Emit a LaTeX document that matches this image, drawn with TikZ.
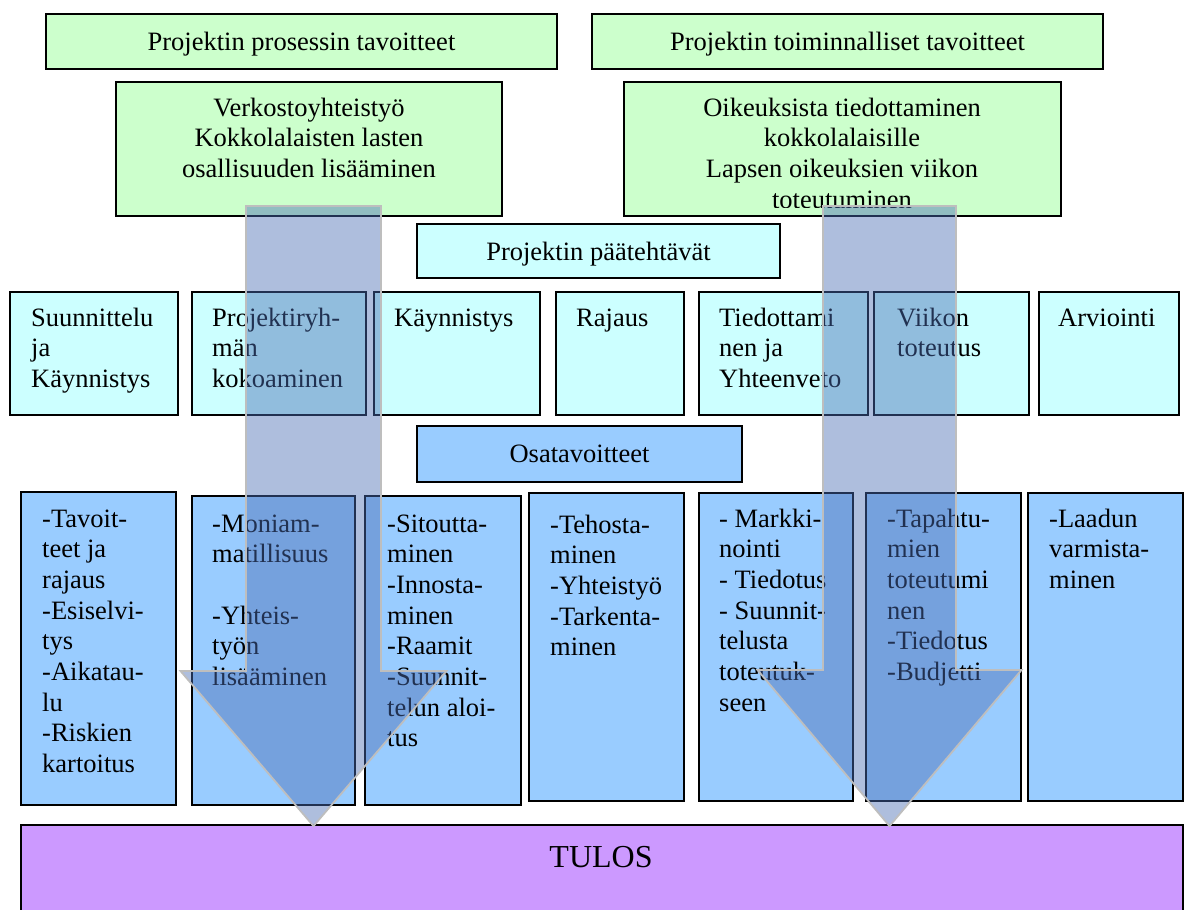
\documentclass[tikz,border=0pt]{standalone}
\usepackage{fontspec}
\setmainfont{Liberation Serif}
\definecolor{gr}{RGB}{204,255,204}
\definecolor{cy}{RGB}{204,255,255}
\definecolor{bl}{RGB}{153,204,255}
\definecolor{pu}{RGB}{204,153,255}
\definecolor{arrfill}{RGB}{75,110,180}
\definecolor{arredge}{RGB}{190,190,190}
% box: name, x1, y1, x2, y2, style
\newcommand\mybox[6]{\node[boxstyle,#6,minimum width={#4-#2},minimum height={#5-#3}] (#1) at ({(#2+#4)/2},{(#3+#5)/2}) {};}
% left aligned text: name, x, baseline, lines
\newcommand\ltxt[4]{\node[anchor=base west,inner sep=0pt] (#1) at (#2,#3) {\begin{tabular}[t]{@{}l@{}}#4\end{tabular}};}
% centered text: name, x, baseline, lines
\newcommand\ctxt[4]{\node[anchor=base,inner sep=0pt] (#1) at (#2,#3) {\begin{tabular}[t]{@{}c@{}}#4\end{tabular}};}
\tikzset{
  boxstyle/.style={draw=black,line width=1.8pt,inner sep=0pt,outer sep=0pt,rectangle},
  bigarrow/.style={draw=arredge,line width=1.8pt,fill=arrfill,fill opacity=0.45,line join=miter},
}
\begin{document}
\begin{tikzpicture}[x=1pt,y=-1pt,font=\fontsize{26.5}{30.7}\selectfont]
\useasboundingbox (0,0) rectangle (1187,910);
% top goals
\mybox{pgoal}{46}{14}{557}{69}{fill=gr}
\mybox{fgoal}{592}{14}{1103}{69}{fill=gr}
\ctxt{pgoalt}{301.5}{50}{Projektin prosessin tavoitteet}
\ctxt{fgoalt}{847.5}{50}{Projektin toiminnalliset tavoitteet}
\mybox{pgoal2}{116}{82}{502}{216}{fill=gr}
\mybox{fgoal2}{624}{82}{1061}{216}{fill=gr}
\ctxt{pgoal2t}{309}{116}{Verkostoyhteistyö\\Kokkolalaisten lasten\\osallisuuden lisääminen}
\begin{scope}
\clip (624,82) rectangle (1061,207);
\ctxt{fgoal2t}{842}{116}{Oikeuksista tiedottaminen\\kokkolalaisille\\Lapsen oikeuksien viikon\\toteutuminen}
\end{scope}
% main tasks
\mybox{tasks}{417}{224}{780}{278}{fill=cy}
\ctxt{taskst}{598.5}{260}{Projektin päätehtävät}
\mybox{t1}{10}{292}{178}{415}{fill=cy}
\mybox{t2}{192}{292}{366}{415}{fill=cy}
\mybox{t3}{374}{292}{540}{415}{fill=cy}
\mybox{t4}{556}{292}{684}{415}{fill=cy}
\mybox{t5}{699}{292}{868}{415}{fill=cy}
\mybox{t6}{874}{292}{1029}{415}{fill=cy}
\mybox{t7}{1039}{292}{1179}{415}{fill=cy}
\ltxt{t1t}{31}{326}{Suunnittelu\\ja\\Käynnistys}
\ltxt{t2t}{212}{326}{Projektiryh-\\män\\kokoaminen}
\ltxt{t3t}{394}{326}{Käynnistys}
\ltxt{t4t}{576}{326}{Rajaus}
\ltxt{t5t}{719}{326}{Tiedottami\\nen ja\\Yhteenveto}
\ltxt{t6t}{897}{326}{Viikon\\toteutus}
\ltxt{t7t}{1058}{326}{Arviointi}
% sub goals
\mybox{sub}{417}{426}{742}{482}{fill=bl}
\ctxt{subt}{579.5}{462}{Osatavoitteet}
\mybox{s1}{21}{492}{176}{805}{fill=bl}
\mybox{s2}{192}{496}{355}{805}{fill=bl}
\mybox{s3}{365}{496}{521}{805}{fill=bl}
\mybox{s4}{529}{493}{684}{801}{fill=bl}
\mybox{s5}{699}{493}{853}{801}{fill=bl}
\mybox{s6}{866}{493}{1021}{801}{fill=bl}
\mybox{s7}{1028}{493}{1183}{801}{fill=bl}
\ltxt{s1t}{42}{527}{-Tavoit-\\teet ja\\rajaus\\-Esiselvi-\\tys\\-Aikatau-\\lu\\-Riskien\\kartoitus}
\ltxt{s2t}{212}{532}{-Moniam-\\matillisuus\\ \\-Yhteis-\\työn\\lisääminen}
\ltxt{s3t}{387}{532}{-Sitoutta-\\minen\\-Innosta-\\minen\\-Raamit\\-Suunnit-\\telun aloi-\\tus}
\ltxt{s4t}{550}{533}{-Tehosta-\\minen\\-Yhteistyö\\-Tarkenta-\\minen}
\ltxt{s5t}{719}{527}{- Markki-\\nointi\\- Tiedotus\\- Suunnit-\\telusta\\toteutuk-\\seen}
\ltxt{s6t}{887}{527}{-Tapahtu-\\mien\\toteutumi\\nen\\-Tiedotus\\-Budjetti}
\ltxt{s7t}{1049}{527}{-Laadun\\varmista-\\minen}
% result
\mybox{res}{21}{825}{1183}{930}{fill=pu}
\node[anchor=base,inner sep=0pt,font=\fontsize{32}{36}\selectfont] (rest) at (601,867) {TULOS};
% big arrows
\draw[bigarrow] (246,206) -- (381,206) -- (381,671) -- (446.5,671) -- (313.5,826) -- (180.5,671) -- (246,671) -- cycle;
\draw[bigarrow] (823,206) -- (956,206) -- (956,670) -- (1021.5,670) -- (889.5,826) -- (757.5,670) -- (823,670) -- cycle;
\end{tikzpicture}
\end{document}
